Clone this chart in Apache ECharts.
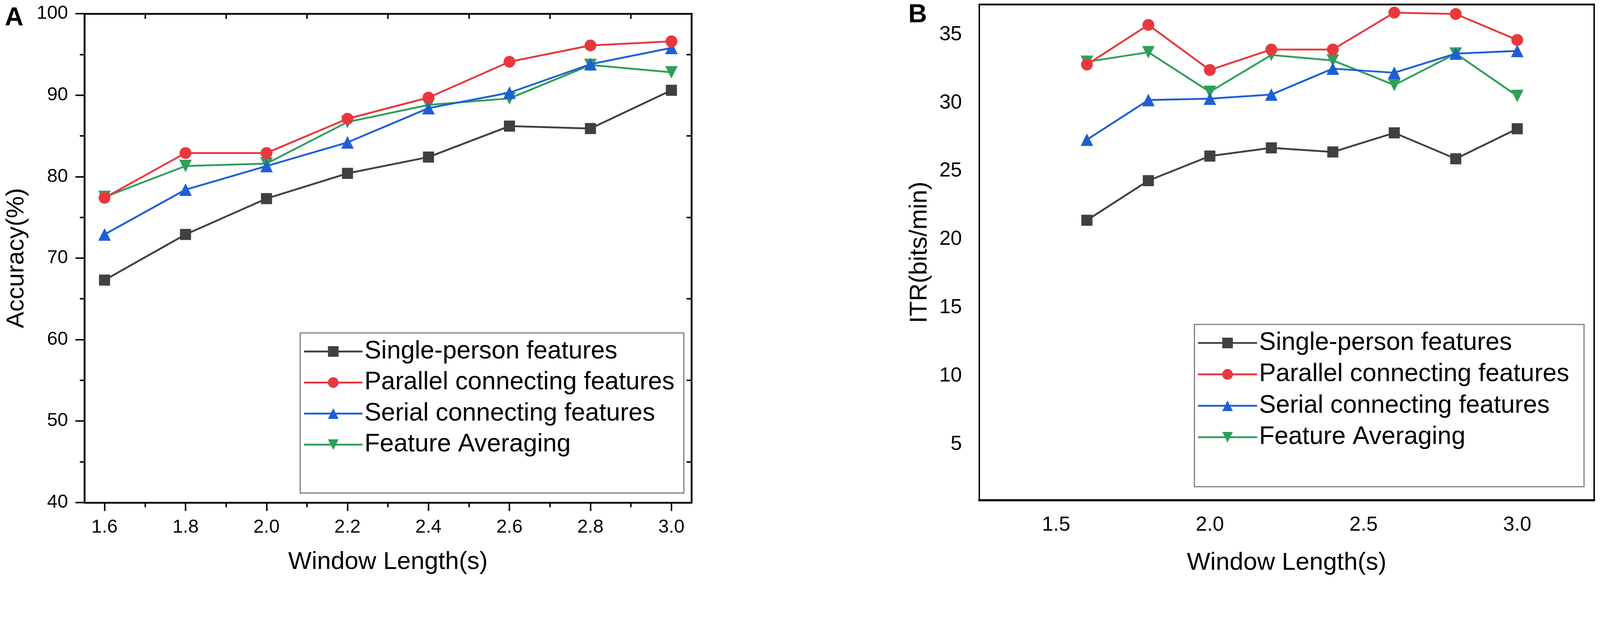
<!DOCTYPE html>
<html>
<head>
<meta charset="utf-8">
<script src="https://cdn.jsdelivr.net/npm/echarts@6/dist/echarts.min.js"></script>
<style>
html,body{margin:0;padding:0;background:#fff;overflow:hidden;width:100%;height:100%;}
#chart{width:100vw;}
</style>
</head>
<body>
<div id="chart"></div>
<script>
// ---- data ----
const windowLengths = [1.6, 1.8, 2.0, 2.2, 2.4, 2.6, 2.8, 3.0];
const seriesNames = ['Single-person features', 'Parallel connecting features', 'Serial connecting features', 'Feature Averaging'];

const accSingle    = [67.3, 72.9, 77.3, 80.4, 82.4, 86.2, 85.9, 90.6];
const accParallel  = [77.4, 82.9, 82.9, 87.1, 89.7, 94.1, 96.1, 96.6];
const accSerial    = [72.9, 78.4, 81.3, 84.2, 88.4, 90.3, 93.8, 95.8];
const accAveraging = [77.5, 81.3, 81.6, 86.7, 88.8, 89.6, 93.7, 92.8];

const itrSingle    = [21.4, 24.3, 26.1, 26.7, 26.4, 27.8, 25.9, 28.1];
const itrParallel  = [32.8, 35.7, 32.4, 33.9, 33.9, 36.6, 36.5, 34.6];
const itrSerial    = [27.3, 30.2, 30.3, 30.6, 32.5, 32.2, 33.6, 33.8];
const itrAveraging = [33.0, 33.7, 30.8, 33.5, 33.1, 31.3, 33.6, 30.5];

const accXTicks = [1.6, 1.8, 2.0, 2.2, 2.4, 2.6, 2.8, 3.0];
const accXMinor = [1.7, 1.9, 2.1, 2.3, 2.5, 2.7, 2.9];
const accYTicks = [40, 50, 60, 70, 80, 90, 100];
const accYMinor = [45, 55, 65, 75, 85, 95];
const itrXTicks = [1.5, 2.0, 2.5, 3.0];
const itrYTicks = [5, 10, 15, 20, 25, 30, 35];

// ---- layout scaling (design is 4328 x 1580, uniform scale from width) ----
const el = document.getElementById('chart');
const W = el.clientWidth || window.innerWidth;
const S = W / 4328;
const H = Math.round(1580 * S);
el.style.height = H + 'px';
const p = v => v * S;

// ---- style ----
const FONT = '"Liberation Sans", Arial, Helvetica, sans-serif';
const colors = ['#404040', '#e8383d', '#1f5fd6', '#2ea05a'];
const symbols = ['rect', 'circle', 'triangle', 'path://M0,0 L10,0 L5,9 Z'];
const symbolSizes = [30, 32, 34, 34];
const LINE_W = 5;

function pairs(vals) { return windowLengths.map((x, i) => [x, vals[i]]); }

function mkSeries(vals, idx, gi) {
  return {
    name: seriesNames[idx],
    type: 'line',
    xAxisIndex: gi === 0 ? 0 : 3,
    yAxisIndex: gi === 0 ? 0 : 3,
    data: pairs(vals),
    symbol: symbols[idx],
    symbolSize: p(symbolSizes[idx]),
    itemStyle: { color: colors[idx] },
    lineStyle: { color: colors[idx], width: p(LINE_W) },
    z: 10 - idx,
    animation: false
  };
}

const chart = echarts.init(el, null, { renderer: 'canvas', width: W, height: H });

const blackLine = (w) => ({ show: true, onZero: false, lineStyle: { color: '#000', width: p(w) } });
const tickStyle = { color: '#000', width: p(4) };
const txt = (size) => ({ fontSize: p(size), color: '#000', fontFamily: FONT });

const option = {
  backgroundColor: '#fff',
  animation: false,
  textStyle: { fontFamily: FONT },
  grid: [
    { left: p(228), top: p(37), right: p(4328 - 1871), bottom: p(220), containLabel: false },
    { left: p(2649), top: p(12), right: p(16), bottom: p(226), containLabel: false }
  ],
  xAxis: [
    { gridIndex: 0, type: 'value', position: 'bottom', min: 1.55, max: 3.05,
      axisLine: blackLine(5), splitLine: { show: false },
      axisTick: { show: true, inside: false, length: p(23), customValues: accXTicks, lineStyle: tickStyle },
      axisLabel: Object.assign({ show: true, customValues: accXTicks, margin: p(42),
        formatter: v => Number(v).toFixed(1) }, txt(51)),
      name: 'Window Length(s)', nameLocation: 'middle', nameGap: p(128),
      nameTextStyle: txt(67) },
    { gridIndex: 0, type: 'value', position: 'bottom', min: 1.55, max: 3.05,
      axisLine: { show: false }, splitLine: { show: false }, axisLabel: { show: false },
      axisTick: { show: true, inside: false, length: p(13), customValues: accXMinor, lineStyle: tickStyle } },
    { gridIndex: 0, type: 'value', position: 'top', min: 1.55, max: 3.05,
      axisLine: blackLine(5), splitLine: { show: false }, axisLabel: { show: false },
      axisTick: { show: true, inside: true, length: p(14), customValues: accXMinor, lineStyle: tickStyle } },
    { gridIndex: 1, type: 'value', position: 'bottom', min: 1.25, max: 3.25,
      axisLine: blackLine(6), splitLine: { show: false },
      axisTick: { show: false },
      axisLabel: Object.assign({ show: true, customValues: itrXTicks, margin: p(40),
        formatter: v => Number(v).toFixed(1) }, txt(55)),
      name: 'Window Length(s)', nameLocation: 'middle', nameGap: p(136),
      nameTextStyle: txt(67) },
    { gridIndex: 1, type: 'value', position: 'top', min: 1.25, max: 3.25,
      axisLine: blackLine(5), splitLine: { show: false }, axisLabel: { show: false }, axisTick: { show: false } }
  ],
  yAxis: [
    { gridIndex: 0, type: 'value', position: 'left', min: 40, max: 100,
      axisLine: blackLine(5), splitLine: { show: false },
      axisTick: { show: true, inside: false, length: p(24), customValues: accYTicks, lineStyle: tickStyle },
      axisLabel: Object.assign({ show: true, customValues: accYTicks, margin: p(44) }, txt(51)),
      name: 'Accuracy(%)', nameLocation: 'middle', nameGap: p(150), nameRotate: 90,
      nameTextStyle: txt(67) },
    { gridIndex: 0, type: 'value', position: 'left', min: 40, max: 100,
      axisLine: { show: false }, splitLine: { show: false }, axisLabel: { show: false },
      axisTick: { show: true, inside: false, length: p(12), customValues: accYMinor, lineStyle: tickStyle } },
    { gridIndex: 0, type: 'value', position: 'right', min: 40, max: 100,
      axisLine: blackLine(5), splitLine: { show: false }, axisLabel: { show: false },
      axisTick: { show: true, inside: true, length: p(14), customValues: accYMinor, lineStyle: tickStyle } },
    { gridIndex: 1, type: 'value', position: 'left', min: 0.9, max: 37.2,
      axisLine: blackLine(4), splitLine: { show: false },
      axisTick: { show: false },
      axisLabel: Object.assign({ show: true, customValues: itrYTicks, margin: p(47) }, txt(55)),
      name: 'ITR(bits/min)', nameLocation: 'middle', nameGap: p(128), nameRotate: 90,
      nameTextStyle: txt(67) },
    { gridIndex: 1, type: 'value', position: 'right', min: 0.9, max: 37.2,
      axisLine: blackLine(4), splitLine: { show: false }, axisLabel: { show: false }, axisTick: { show: false } }
  ],
  legend: [
    { orient: 'vertical', left: p(812), top: p(901), data: seriesNames,
      itemWidth: p(158), itemHeight: p(36), itemGap: p(14),
      padding: [p(15), p(25), p(96), p(8)],
      borderColor: '#7a7a7a', borderWidth: p(3), backgroundColor: '#fff',
      selectedMode: false,
      lineStyle: { width: p(LINE_W) },
      textStyle: Object.assign({ lineHeight: p(70) }, txt(68)) },
    { orient: 'vertical', left: p(3231), top: p(878), data: seriesNames,
      itemWidth: p(160), itemHeight: p(36), itemGap: p(15),
      padding: [p(15), p(40), p(99), p(7)],
      borderColor: '#7a7a7a', borderWidth: p(3), backgroundColor: '#fff',
      selectedMode: false,
      lineStyle: { width: p(LINE_W) },
      textStyle: Object.assign({ lineHeight: p(70) }, txt(68)) }
  ],
  graphic: [
    { type: 'text', left: p(13), top: p(14), style: { text: 'A', font: 'bold ' + p(70) + 'px ' + FONT, fill: '#000' } },
    { type: 'text', left: p(2457), top: p(6), style: { text: 'B', font: 'bold ' + p(70) + 'px ' + FONT, fill: '#000' } }
  ],
  series: [
    mkSeries(accSingle, 0, 0),
    mkSeries(accParallel, 1, 0),
    mkSeries(accSerial, 2, 0),
    mkSeries(accAveraging, 3, 0),
    mkSeries(itrSingle, 0, 1),
    mkSeries(itrParallel, 1, 1),
    mkSeries(itrSerial, 2, 1),
    mkSeries(itrAveraging, 3, 1)
  ]
};
chart.setOption(option);
</script>
</body>
</html>
